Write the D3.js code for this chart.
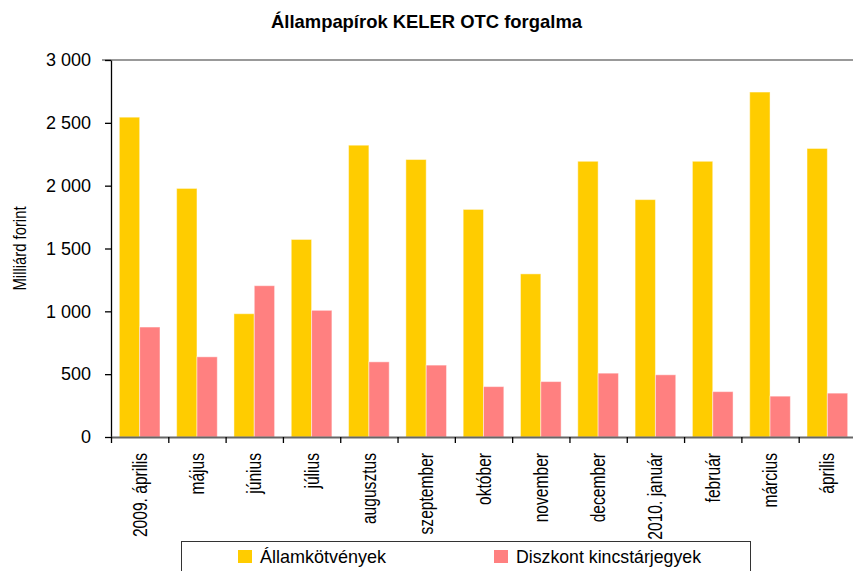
<!DOCTYPE html>
<html>
<head>
<meta charset="utf-8">
<script src="https://cdn.jsdelivr.net/npm/d3@7"></script>
<style>
  body { margin: 0; background: #fff; }
  text { font-family: "Liberation Sans", Arial, sans-serif; fill: #000; }
</style>
</head>
<body>
<div id="chart"></div>
<script>
// data (milliárd forint)
const months = ["2009. április", "május", "június", "július", "augusztus", "szeptember",
  "október", "november", "december", "2010. január", "február", "március", "április"];
const seriesNames = ["Államkötvények", "Diszkont kincstárjegyek"];
const bonds = [2545, 1978, 981, 1572, 2322, 2208, 1811, 1298, 2194, 1889, 2194, 2745, 2296];
const tbills = [875, 638, 1204, 1008, 598, 572, 401, 441, 508, 495, 361, 325, 349];
const yTicks = [0, 500, 1000, 1500, 2000, 2500, 3000];
const colors = ["#FFCC00", "#FF8080"];

const W = 853, H = 571;
const margin = { top: 60, right: -3, bottom: 134, left: 111 };
const width = W - margin.left - margin.right;
const height = H - margin.top - margin.bottom;

const svg = d3.select("#chart").append("svg")
    .attr("width", W)
    .attr("height", H);

// title
svg.append("text")
    .attr("x", W / 2)
    .attr("y", 28)
    .attr("text-anchor", "middle")
    .attr("font-weight", "bold")
    .attr("font-size", 19)
    .attr("textLength", 311)
    .attr("lengthAdjust", "spacingAndGlyphs")
    .text("Állampapírok KELER OTC forgalma");

const g = svg.append("g")
    .attr("transform", "translate(" + margin.left + "," + margin.top + ")");

const x = d3.scaleBand()
    .domain(months)
    .range([0, width])
    .padding(0);

const xs = d3.scaleBand()
    .domain([0, 1])
    .range([0, x.bandwidth()])
    .paddingInner(0)
    .paddingOuter(0.41);

const y = d3.scaleLinear()
    .domain([0, 3000])
    .range([height, 0]);

const hu = d3.formatLocale({ decimal: ",", thousands: " ", grouping: [3], currency: ["", ""] });
const fmt = hu.format(",d");

// bars
const rows = months.map((m, i) => ({ month: m, values: [bonds[i], tbills[i]] }));

const groups = g.selectAll(".grp")
    .data(rows)
    .enter().append("g")
    .attr("class", "grp")
    .attr("transform", d => "translate(" + x(d.month) + ",0)");

groups.selectAll("rect")
    .data(d => d.values.map((v, k) => ({ k: k, v: v })))
    .enter().append("rect")
    .attr("x", d => xs(d.k))
    .attr("width", xs.bandwidth())
    .attr("y", d => y(d.v))
    .attr("height", d => height - y(d.v))
    .style("fill", d => colors[d.k])
    .style("stroke", "rgba(255,255,255,0.45)")
    .style("stroke-width", 1);

// top grid line at 3000
g.append("line")
    .attr("x1", -9)
    .attr("x2", width)
    .attr("y1", y(3000))
    .attr("y2", y(3000))
    .style("stroke", "#999")
    .style("stroke-width", 2);

// y axis
const yAxis = g.append("g")
    .attr("class", "y axis")
    .call(d3.axisLeft(y).tickValues(yTicks).tickSize(6).tickSizeOuter(0).tickPadding(14).tickFormat(fmt));
yAxis.select(".domain").style("stroke", "#000").style("stroke-width", 1.3);
yAxis.selectAll(".tick line").style("stroke", "#000").style("stroke-width", 1.3);
yAxis.selectAll("text")
    .attr("font-size", 18)
    .style("font-family", "'Liberation Sans', Arial, sans-serif");

svg.append("text")
    .attr("transform", "translate(26," + (margin.top + y(1500)) + ") rotate(-90)")
    .attr("text-anchor", "middle")
    .attr("font-size", 18)
    .attr("textLength", 84)
    .attr("lengthAdjust", "spacingAndGlyphs")
    .text("Milliárd forint");

// x axis: ticks at category boundaries
const xb = d3.scaleLinear().domain([0, months.length]).range([0, width]);
const xAxis = g.append("g")
    .attr("class", "x axis")
    .attr("transform", "translate(0," + height + ")")
    .call(d3.axisBottom(xb).tickValues(d3.range(months.length + 1)).tickSize(6).tickSizeOuter(0).tickFormat(""));
xAxis.select(".domain").style("stroke", "#666").style("stroke-width", 2);
xAxis.selectAll(".tick line").style("stroke", "#000").style("stroke-width", 1.3);

// x labels, rotated
const xLab = g.append("g")
    .attr("transform", "translate(0," + height + ")")
    .call(d3.axisBottom(x).tickSize(0).tickPadding(0));
xLab.select(".domain").remove();
xLab.selectAll("text")
    .attr("x", 0)
    .attr("y", 0)
    .attr("dy", "0.35em")
    .attr("text-anchor", "end")
    .attr("font-size", 20)
    .style("font-family", "'Liberation Sans', Arial, sans-serif")
    .attr("transform", "translate(0,16) rotate(-90) scale(0.78,1)");

// legend
const legend = svg.append("g");
legend.append("rect")
    .attr("x", 181.5)
    .attr("y", 541.5)
    .attr("width", 569)
    .attr("height", 45)
    .style("fill", "#fff")
    .style("stroke", "#333")
    .style("stroke-width", 1);

const legendX = [238, 494];
const legendW = [126, 185];
seriesNames.forEach((name, i) => {
  legend.append("rect")
      .attr("x", legendX[i])
      .attr("y", 550)
      .attr("width", 14)
      .attr("height", 13)
      .style("fill", colors[i]);
  legend.append("text")
      .attr("x", legendX[i] + 22)
      .attr("y", 563)
      .attr("font-size", 19)
      .attr("textLength", legendW[i])
      .attr("lengthAdjust", "spacingAndGlyphs")
      .text(name);
});
</script>
</body>
</html>
